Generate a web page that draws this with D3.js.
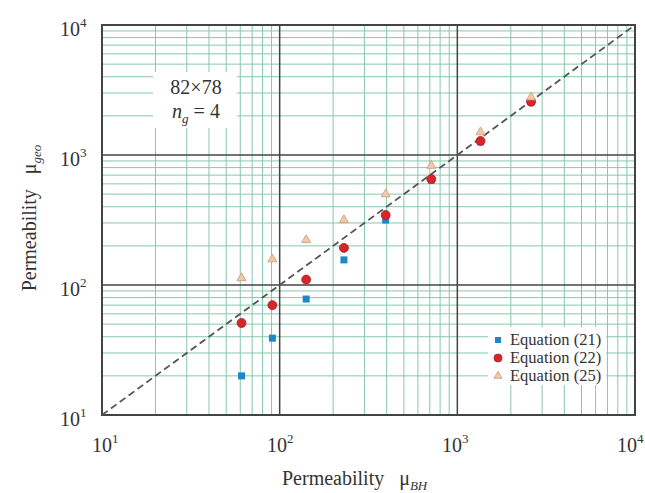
<!DOCTYPE html>
<html>
<head>
<meta charset="utf-8">
<script src="https://cdn.jsdelivr.net/npm/d3@7"></script>
<style>
  body { margin: 0; background: #fff; }
  text { font-family: "Liberation Serif", "Times New Roman", serif; fill: #333; }
</style>
</head>
<body>
<svg id="chart" width="645" height="493"></svg>
<script>
// data
var muBH   = [61, 91, 141, 230, 395, 714, 1350, 2600];
var eq21   = [20, 39, 78, 156, 316, 640, 1265, 2560];
var eq22   = [51, 70, 110, 193, 345, 653, 1282, 2570];
var eq25   = [113, 158, 222, 316, 499, 828, 1497, 2780];
var decades = [10, 100, 1000, 10000];
var seriesNames = ["Equation (21)", "Equation (22)", "Equation (25)"];

var svg = d3.select("#chart");
var L = 102, R = 635, T = 25, B = 415;

var x = d3.scaleLog().domain([10, 10000]).range([L, R]);
var y = d3.scaleLog().domain([10, 10000]).range([B, T]);

// minor values 2..9 per decade
var minor = [];
[10, 100, 1000].forEach(function(d) {
  for (var k = 2; k <= 9; k++) minor.push(d * k);
});

var grid = svg.append("g");
grid.selectAll(".vx").data(minor).enter().append("line")
  .attr("x1", d => x(d)).attr("x2", d => x(d))
  .attr("y1", T).attr("y2", B)
  .attr("stroke", "#86c8ac").attr("stroke-width", 1);
grid.selectAll(".hy").data(minor).enter().append("line")
  .attr("y1", d => y(d)).attr("y2", d => y(d))
  .attr("x1", L).attr("x2", R)
  .attr("stroke", "#86c8ac").attr("stroke-width", 1);

// white boxes over the grid
svg.append("rect").attr("x", 153).attr("y", 72).attr("width", 84).attr("height", 56).attr("fill", "#fff");
svg.append("rect").attr("x", 488).attr("y", 327).attr("width", 118).attr("height", 58).attr("fill", "#fff");

// major lines
grid.selectAll(".mx").data(decades).enter().append("line")
  .attr("x1", d => x(d)).attr("x2", d => x(d))
  .attr("y1", T).attr("y2", B)
  .attr("stroke", "#444").attr("stroke-width", 1.5);
grid.selectAll(".my").data(decades).enter().append("line")
  .attr("y1", d => y(d)).attr("y2", d => y(d))
  .attr("x1", L).attr("x2", R)
  .attr("stroke", "#444").attr("stroke-width", 1.5);
svg.append("rect").attr("x", L).attr("y", T).attr("width", R - L).attr("height", B - T)
  .attr("fill", "none").attr("stroke", "#444").attr("stroke-width", 2);

// 1:1 line
svg.append("line")
  .attr("x1", x(10)).attr("y1", y(10)).attr("x2", x(10000)).attr("y2", y(10000))
  .attr("stroke", "#555").attr("stroke-width", 1.8).attr("stroke-dasharray", "7,4");

// tick labels
function powLabel(sel, d) {
  var e = Math.round(Math.log10(d));
  sel.append("tspan").text("10");
  sel.append("tspan").attr("dy", -9).attr("font-size", 13).text(e);
}
svg.selectAll(".xt").data(decades).enter().append("text")
  .attr("x", (d, i) => x(d) - 10 - 2.7 * i).attr("y", 452)
  .attr("font-size", 20)
  .each(function(d) { powLabel(d3.select(this), d); });
svg.selectAll(".yt").data(decades).enter().append("text")
  .attr("x", 60).attr("y", d => y(d) + 11)
  .attr("font-size", 20)
  .each(function(d) { powLabel(d3.select(this), d); });

// axis titles
var xt = svg.append("text").attr("x", 282).attr("y", 485).attr("font-size", 20)
  .style("white-space", "pre");
xt.append("tspan").text("Permeability   μ");
xt.append("tspan").attr("dy", 5).attr("font-size", 13).attr("font-style", "italic").text("BH");

var yt = svg.append("text").attr("transform", "translate(36,218) rotate(-90)")
  .attr("text-anchor", "middle").attr("font-size", 20).style("white-space", "pre");
yt.append("tspan").text("Permeability   μ");
yt.append("tspan").attr("dy", 5).attr("font-size", 13).attr("font-style", "italic").text("geo");

// annotation
svg.append("text").attr("x", 196).attr("y", 94).attr("text-anchor", "middle").attr("font-size", 20).text("82×78");
var ng = svg.append("text").attr("x", 196).attr("y", 118).attr("text-anchor", "middle").attr("font-size", 20);
ng.append("tspan").attr("font-style", "italic").text("n");
ng.append("tspan").attr("dy", 5).attr("font-size", 13).attr("font-style", "italic").text("g");
ng.append("tspan").attr("dy", -5).text(" = 4");

// markers
var tri = d3.symbol().type(d3.symbolTriangle);
function drawSquare(g, cx, cy, s) {
  g.append("rect").attr("x", cx - s / 2).attr("y", cy - s / 2).attr("width", s).attr("height", s)
    .attr("fill", "#1f86c8");
}
function drawCircle(g, cx, cy, r) {
  g.append("circle").attr("cx", cx).attr("cy", cy).attr("r", r)
    .attr("fill", "#d7262a").attr("stroke", "#b01c1f").attr("stroke-width", 0.8);
}
function drawTri(g, cx, cy, size) {
  g.append("path").attr("d", tri.size(size)()).attr("transform", "translate(" + cx + "," + cy + ")")
    .attr("fill", "#f2c9a6").attr("stroke", "#c49a78").attr("stroke-width", 0.8);
}

var pts = svg.append("g");
muBH.forEach(function(v, i) { drawSquare(pts, x(v), y(eq21[i]), 7); });
muBH.forEach(function(v, i) { drawCircle(pts, x(v), y(eq22[i]), 4.5); });
muBH.forEach(function(v, i) { drawTri(pts, x(v), y(eq25[i]), 36); });

// legend
var lg = svg.append("g");
var rows = [340, 358, 376];
drawSquare(lg, 498, rows[0], 6);
drawCircle(lg, 498, rows[1], 4);
drawTri(lg, 498, rows[2], 28);
lg.selectAll("text").data(seriesNames).enter().append("text")
  .attr("x", 510).attr("y", (d, i) => rows[i] + 5)
  .attr("font-size", 16.5).text(d => d);
</script>
</body>
</html>
